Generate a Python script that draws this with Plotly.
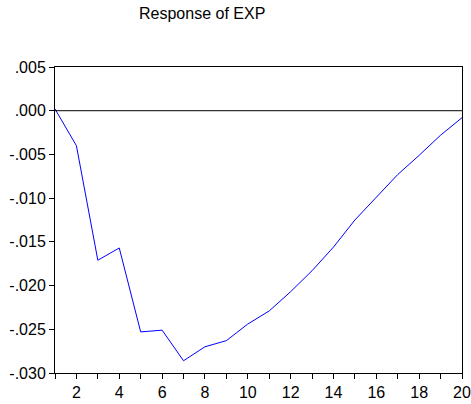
import plotly.graph_objects as go

periods = list(range(1, 21))
response = [0.0002, -0.0040, -0.0171, -0.0157, -0.0253, -0.0251, -0.0286, -0.0270,
            -0.0263, -0.0244, -0.0229, -0.0207, -0.0183, -0.0156, -0.0125, -0.0099,
            -0.0073, -0.0051, -0.0028, -0.0008]
y_ticks = [0.005, 0.000, -0.005, -0.010, -0.015, -0.020, -0.025, -0.030]
y_tick_labels = [".005", ".000", "-.005", "-.010", "-.015", "-.020", "-.025", "-.030"]
x_ticks = [2, 4, 6, 8, 10, 12, 14, 16, 18, 20]
title_text = "Response of EXP"

fig = go.Figure()
fig.add_trace(go.Scatter(x=periods, y=response, mode="lines",
                         line=dict(color="#0000FF", width=1), showlegend=False))

fig.add_hline(y=0, line=dict(color="black", width=1))

font = dict(family="Arial, Liberation Sans, sans-serif", size=16, color="black")

fig.update_layout(
    width=471, height=404,
    margin=dict(l=55, r=9, t=67, b=31, autoexpand=False),
    paper_bgcolor="white", plot_bgcolor="white",
    font=font,
    annotations=[dict(text=title_text, xref="paper", yref="paper",
                      x=(202 - 55) / (462 - 55), y=1 + (67 - 14) / 306,
                      xanchor="center", yanchor="middle", showarrow=False,
                      font=font)],
)
fig.update_xaxes(range=[1, 20], tickmode="array", tickvals=periods,
                 ticktext=[str(p) if p in x_ticks else "" for p in periods],
                 ticks="outside", ticklen=5, tickcolor="black", tickwidth=1,
                 showline=True, linecolor="black", linewidth=1, mirror=True,
                 showgrid=False, zeroline=False, tickfont=font, automargin=False)
fig.update_yaxes(range=[-0.030, 0.005], tickmode="array", tickvals=y_ticks,
                 ticktext=y_tick_labels,
                 ticks="outside", ticklen=5, tickcolor="black", tickwidth=1,
                 showline=True, linecolor="black", linewidth=1, mirror=True,
                 showgrid=False, zeroline=False, tickfont=font, automargin=False)

fig.write_html("out.html")
